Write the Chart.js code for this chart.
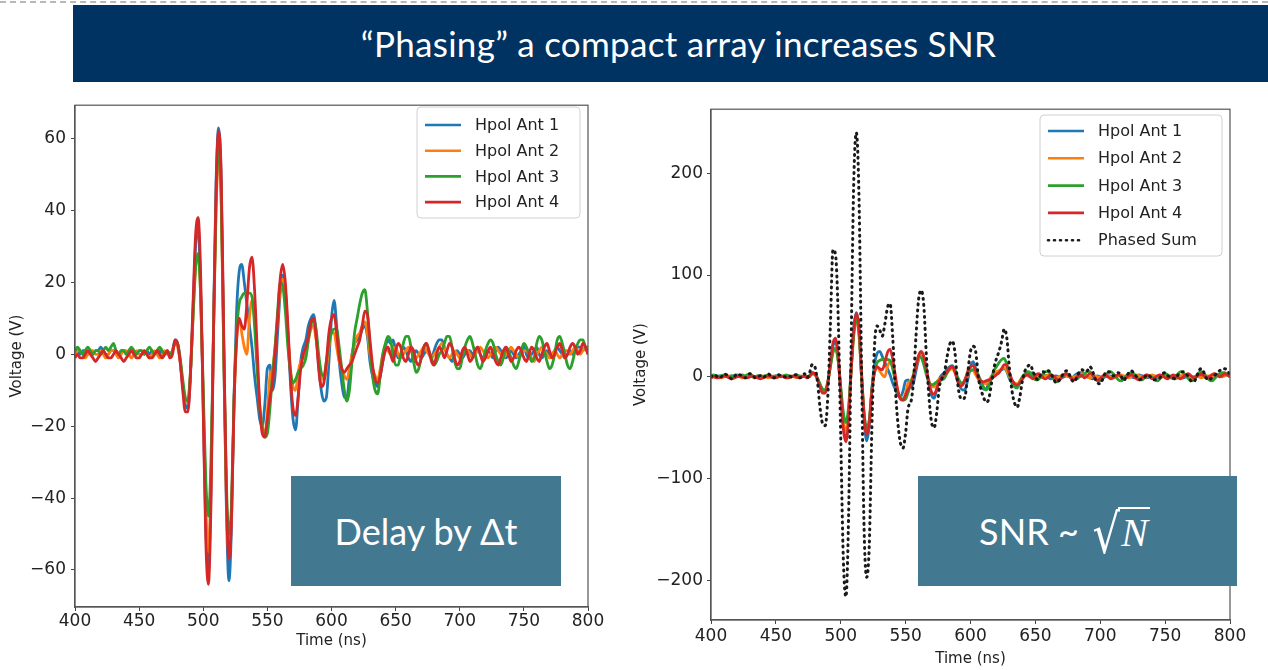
<!DOCTYPE html>
<html lang="en">
<head>
<meta charset="UTF-8">
<title>Phasing a compact array increases SNR</title>
<script src="https://cdn.jsdelivr.net/npm/chart.js"></script>
<style>
  html, body { margin: 0; padding: 0; background: #fff; overflow: hidden; }
  body { width: 1268px; height: 670px; position: relative; font-family: Lato, "Open Sans", sans-serif; }
  .dash { position: absolute; left: 0; top: 1px; width: 1268px; border-top: 2px dashed #b8b8b8; }
  .banner {
    position: absolute; left: 73px; top: 5px; width: 1195px; height: 77px;
    background: #003262; color: #fff; font-size: 35px; line-height: 77px;
    text-align: center; box-sizing: border-box; padding-left: 16px; letter-spacing: 0.3px;
  }
  canvas { position: absolute; }
  #leftChart { left: 0; top: 90px; }
  #rightChart { left: 620px; top: 95px; }
  .note {
    position: absolute; top: 476px; height: 110px; background: #437891; color: #fff;
    display: flex; align-items: center; justify-content: center; font-size: 36px;
    box-sizing: border-box; z-index: 2;
  }
  .note.left { left: 291px; width: 270px; }
  .note.right { left: 918px; width: 319px; padding-right: 26px; }
  .rad { font-family: "DejaVu Serif", serif; font-size: 54px; margin-left: 10px;
         transform: scaleX(0.8); display: inline-block; margin-right: -5px; margin-top: 6px; }
  .n { font-family: "Liberation Serif", serif; font-style: italic; font-size: 40px;
       border-top: 2px solid #fff; line-height: 36px; padding: 6px 2px 0 3px; margin-top: -4px; }
</style>
</head>
<body>
<div class="dash"></div>
<div class="banner">“Phasing” a compact array increases SNR</div>
<canvas id="leftChart" width="620" height="567"></canvas>
<canvas id="rightChart" width="648" height="575"></canvas>
<div class="note left">Delay by Δt</div>
<div class="note right">SNR ~<span class="rad">√</span><span class="n">N</span></div>
<script>
  // sample times, 2 ns apart
  const timeNs = Array.from({ length: 201 }, (_, i) => 400 + 2 * i);
  const timeTicks = [400, 450, 500, 550, 600, 650, 700, 750, 800];
  const leftVoltTicks = [-60, -40, -20, 0, 20, 40, 60];
  const rightVoltTicks = [-200, -100, 0, 100, 200];

  const hpolAnt1 = [
    1, 1, 0, 1, 1, 0, 1, 0, 1, 1,
    2, 1, 0, 0, 1, 1, 0, 0, 1, 1,
    0, 1, 1, 0, 0, 1, 1, 0, 1, 0,
    1, 0, 1, 1, 0, 0, 1, 0, 1, 4,
    3, -2, -9, -14, -15, -6, 12, 30, 35, 18,
    -15, -48, -60, -38, 8, 48, 63, 48, 0, -42,
    -63, -48, -12, 12, 23, 25, 20, 14, 8, 2,
    -6, -12, -18, -20, -14, -4, -3, -10, -6, 6,
    17, 22, 18, 6, -8, -18, -21, -12, -2, 2,
    4, 8, 10, 11, 6, -3, -10, -13, -12, -2,
    10, 15, 8, -2, -8, -12, -12, -6, 0, 3,
    4, 5, 7, 8, 5, -2, -6, -8, -9, -6,
    -2, 2, 4, 3, 4, 1, -1, 0, 2, 1,
    -1, -2, 0, 1, 0, -1, 0, 1, 0, -1,
    1, 3, 4, 4, 2, 0, -1, -2, 0, 1,
    0, -1, 0, 1, 1, 0, 1, 2, 0, -1,
    0, 1, 0, -1, 1, 2, 1, 0, -1, 0,
    1, 0, -1, 0, 1, 2, 0, -1, 0, 1,
    2, 0, -1, 0, 1, 0, 0, 1, 2, 1,
    0, -1, 0, 1, 0, 1, 2, 2, 1, 2,
    2
  ];

  const hpolAnt2 = [
    0, 1, 1, 0, -1, 0, 1, 1, 0, 0,
    1, 0, -1, 0, 1, 1, 0, -1, 0, 1,
    1, 0, -1, 0, 1, 0, 0, 1, 0, -1,
    0, 1, 0, -1, 0, 1, 0, 0, 1, 3,
    2, -2, -8, -13, -13, -5, 10, 24, 28, 16,
    -12, -42, -55, -36, 6, 40, 55, 42, 0, -40,
    -55, -44, -14, 4, 10, 6, 2, 0, 10, 15,
    10, -2, -14, -20, -22, -16, -6, -4, 2, 10,
    18, 21, 16, 6, -4, -9, -10, -5, -2, -1,
    0, 4, 7, 8, 4, -2, -6, -7, -4, 2,
    6, 6, 2, -2, -4, -6, -7, -4, 0, 3,
    5, 6, 8, 9, 6, 0, -4, -6, -7, -4,
    0, 2, 1, 0, 1, 2, 0, -1, 0, 1,
    2, 1, 0, -1, 0, 1, 2, 1, 0, -1,
    0, 1, 2, 3, 2, 0, -1, 0, 1, 0,
    -1, 0, 1, 1, 0, -1, 0, 1, 2, 1,
    0, -1, 0, 1, 2, 1, 0, -1, 0, 1,
    2, 1, 0, -1, 0, 1, 1, 0, -1, -2,
    0, 1, 2, 1, 0, -1, 0, 1, 0, -1,
    0, 1, 1, 0, 1, 2, 1, 0, 1, 2,
    1
  ];

  const hpolAnt3 = [
    1, 2, 1, 0, 1, 2, 1, 0, 1, 1,
    0, 1, 2, 1, 2, 3, 1, 0, 1, 1,
    0, 1, 2, 1, 0, 1, 1, 0, 1, 2,
    1, 0, 1, 2, 1, 0, 1, 0, 1, 3,
    3, -1, -7, -12, -13, -5, 10, 24, 28, 16,
    -10, -35, -45, -30, 6, 42, 58, 44, 2, -35,
    -50, -42, -12, 6, 14, 16, 17, 17, 17, 16,
    8, -4, -15, -20, -23, -22, -15, -6, 2, 12,
    20, 19, 12, 2, -5, -8, -7, -5, -4, -3,
    -1, 4, 8, 10, 7, 0, -5, -6, -2, 3,
    6, 7, 7, 2, -4, -10, -13, -10, -2, 6,
    10, 14, 17, 18, 12, 2, -6, -10, -11, -6,
    0, 3, 5, 4, 0, -3, -3, 0, 3, 5,
    5, 2, -2, -5, -4, -1, 2, 3, 1, -1,
    -3, -2, 0, 1, 3, 5, 5, 2, -2, -4,
    -4, -1, 2, 4, 5, 3, 0, -3, -4, -2,
    1, 3, 4, 3, 0, -2, -3, -1, 2, 1,
    -1, -3, -4, -2, 1, 3, 2, 0, -2, -1,
    3, 5, 4, 1, -2, -4, -3, 0, 4, 5,
    3, 0, -3, -4, -2, 1, 3, 4, 4, 2,
    0
  ];

  const hpolAnt4 = [
    -1, 0, -1, -1, 0, 1, 0, -1, -2, -1,
    0, 1, 0, -1, -1, 0, 1, 0, -1, -2,
    -1, 0, 1, 0, -1, -1, 0, 1, 0, -1,
    -1, 0, 1, 0, -1, 0, 1, -1, 0, 4,
    3, -2, -10, -16, -16, -6, 14, 33, 38, 22,
    -16, -52, -64, -42, 6, 46, 62, 50, 5, -38,
    -57, -46, -14, 4, 10, 8, 7, 14, 24, 27,
    18, 2, -14, -22, -23, -18, -12, -8, 0, 10,
    21, 25, 20, 8, -6, -15, -17, -12, -4, 0,
    2, 5, 9, 10, 5, -4, -9, -8, -2, 6,
    10, 11, 6, -1, -4, -5, -4, -3, -2, 0,
    2, 4, 8, 12, 11, 4, -3, -7, -8, -6,
    -2, 1, 2, 0, -2, 1, 3, 2, -1, -2,
    0, 2, 1, -2, -3, -1, 2, 3, 1, -2,
    -3, 0, 2, 1, -1, 1, 3, 2, -1, -3,
    -2, 1, 2, 0, -2, -1, 1, 2, 0, -2,
    -1, 1, 2, 0, -2, -3, -1, 1, 2, 0,
    -2, -1, 1, 2, 1, -1, -2, 0, 2, 1,
    -1, -2, 0, 2, 3, 1, -1, 0, 2, 3,
    1, -1, 0, 2, 3, 2, 0, 1, 3, 2,
    0
  ];

  const phasedSum = [
    0, 2, 1, -1, 0, 3, 2, 0, -2, 0,
    3, 2, 1, -1, 0, 3, 2, -1, 0, 1,
    -1, 1, 3, 1, -1, 0, 2, 1, 0, 0,
    1, 0, 2, 2, -1, 0, 3, -1, 4, 12,
    10, -4, -30, -46, -48, -20, 50, 125, 120, 60,
    -60, -180, -216, -140, 30, 190, 240, 180, 10, -150,
    -197, -165, -50, 30, 50, 46, 40, 52, 68, 72,
    40, -10, -45, -65, -70, -55, -30, -25, -5, 40,
    76, 85, 70, 20, -20, -45, -50, -35, -10, -2,
    5, 20, 32, 35, 24, -5, -20, -22, -18, 5,
    25, 30, 25, 0, -12, -20, -25, -22, -8, 8,
    18, 25, 35, 47, 38, 8, -14, -26, -30, -20,
    -4, 6, 10, 12, 6, 0, -3, 2, 5, 4,
    6, 3, -2, -6, -4, 0, 4, 6, 3, -3,
    -5, 0, 5, 7, 5, 6, 10, 6, -2, -6,
    -7, -2, 4, 5, 4, 1, 2, 4, 1, -4,
    0, 4, 6, 3, 0, -3, -2, -1, 2, 1,
    -2, -3, -2, -1, 3, 4, 1, 0, -1, -2,
    2, 4, 5, 3, 0, -4, -5, -1, 6, 8,
    4, -2, -3, -1, 1, 4, 6, 8, 8, 6,
    2
  ];

  const antLabels = ['Hpol Ant 1', 'Hpol Ant 2', 'Hpol Ant 3', 'Hpol Ant 4'];
  const antColors = ['#1f77b4', '#ff7f0e', '#2ca02c', '#d62728'];
  const antValues = [hpolAnt1, hpolAnt2, hpolAnt3, hpolAnt4];

  const toPoints = values => values.map((v, i) => ({ x: timeNs[i], y: v }));
  const minusSign = v => String(v).replace('-', '\u2212');

  function antDatasets() {
    // later antennas sit on top, like the original plotting order
    return antValues.map((vals, i) => ({
      label: antLabels[i],
      data: toPoints(vals),
      borderColor: antColors[i],
      order: 10 - i
    }));
  }

  // box round the plot area plus a matplotlib style legend inside it
  const frameLegend = {
    id: 'frameLegend',
    afterDatasetsDraw(chart, args, opts) {
      const { ctx, chartArea: a } = chart;
      ctx.save();
      ctx.strokeStyle = '#555';
      ctx.lineWidth = 1.2;
      ctx.strokeRect(a.left, a.top, a.right - a.left, a.bottom - a.top);

      ctx.beginPath();
      ctx.roundRect(opts.x, opts.y, opts.w, opts.h, 4);
      ctx.fillStyle = 'rgba(255,255,255,0.85)';
      ctx.fill();
      ctx.strokeStyle = '#d0d0d0';
      ctx.lineWidth = 1;
      ctx.stroke();

      ctx.font = '16px "DejaVu Sans"';
      ctx.textBaseline = 'middle';
      ctx.fillStyle = '#222';
      chart.data.datasets.forEach((ds, i) => {
        const ly = opts.y + opts.first + i * opts.rowH;
        ctx.beginPath();
        ctx.setLineDash(ds.borderDash || []);
        ctx.lineCap = ds.borderDash ? 'round' : 'butt';
        ctx.strokeStyle = ds.borderColor;
        ctx.lineWidth = 2.6;
        ctx.moveTo(opts.x + 8, ly);
        ctx.lineTo(opts.x + 44, ly);
        ctx.stroke();
        ctx.setLineDash([]);
        ctx.fillText(ds.label, opts.x + 58, ly + 1);
      });
      ctx.restore();
    }
  };

  function makeChart(id, datasets, cfg) {
    const tickFont = { family: 'DejaVu Sans', size: 17 };
    const titleFont = { family: 'DejaVu Sans', size: 15 };
    const grid = { drawOnChartArea: false, drawTicks: true, tickLength: 4, color: '#444' };
    const border = { display: true, color: '#555', width: 1.2 };
    return new Chart(document.getElementById(id), {
      type: 'line',
      data: { datasets },
      options: {
        responsive: false,
        animation: false,
        layout: { padding: cfg.padding },
        elements: {
          point: { radius: 0 },
          line: { borderWidth: 2.8, cubicInterpolationMode: 'monotone' }
        },
        plugins: {
          legend: { display: false },
          tooltip: { enabled: false },
          frameLegend: cfg.legend
        },
        scales: {
          x: {
            type: 'linear', min: 400, max: 800,
            afterBuildTicks: s => { s.ticks = timeTicks.map(v => ({ value: v })); },
            afterFit: s => { s.height = 50; },
            ticks: { font: tickFont, color: '#222', padding: cfg.xTickPad, maxRotation: 0 },
            grid, border,
            title: { display: true, text: 'Time (ns)', font: titleFont, color: '#222',
                     padding: { top: 0, bottom: cfg.xTitlePad } }
          },
          y: {
            min: cfg.yMin, max: cfg.yMax,
            afterBuildTicks: s => { s.ticks = cfg.yTicks.map(v => ({ value: v })); },
            afterFit: s => { s.width = cfg.yWidth; },
            ticks: { font: tickFont, color: '#222', padding: cfg.yTickPad, callback: minusSign },
            grid, border,
            title: { display: true, text: 'Voltage (V)', font: titleFont, color: '#222',
                     padding: { top: cfg.yTitlePad, bottom: 0 } }
          }
        }
      },
      plugins: [frameLegend]
    });
  }

  makeChart('leftChart', antDatasets(), {
    padding: { left: 0, top: 7, right: 32, bottom: 0 },
    yMin: -70.3, yMax: 69.3, yTicks: leftVoltTicks, yWidth: 75,
    xTickPad: 0, xTitlePad: 7, yTickPad: 5, yTitlePad: 8,
    legend: { x: 417, y: 17, w: 163, h: 111, first: 18, rowH: 25.7 }
  });

  const rightSets = antDatasets();
  rightSets.push({
    label: 'Phased Sum',
    data: toPoints(phasedSum),
    borderColor: '#1a1a1a',
    borderDash: [1, 5],
    borderCapStyle: 'round',
    borderWidth: 3,
    order: 0
  });

  makeChart('rightChart', rightSets, {
    padding: { left: 0, top: 11, right: 38, bottom: 0 },
    yMin: -239, yMax: 263, yTicks: rightVoltTicks, yWidth: 91,
    xTickPad: 2, xTitlePad: 2, yTickPad: 4, yTitlePad: 12,
    legend: { x: 420, y: 20, w: 182, h: 141, first: 16, rowH: 27.3 }
  });
</script>
</body>
</html>
